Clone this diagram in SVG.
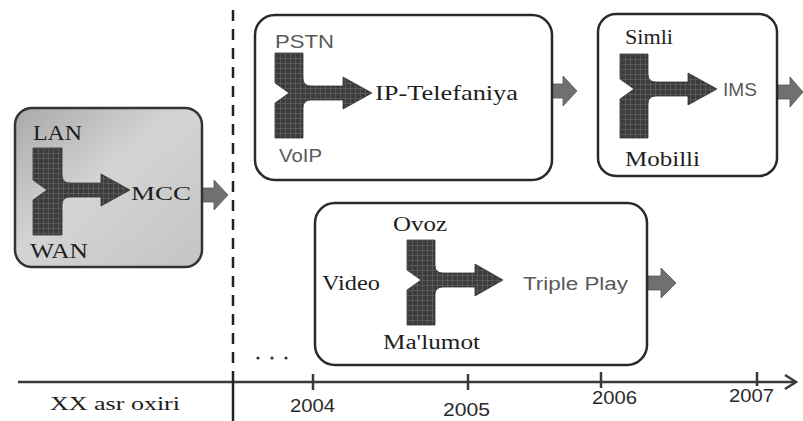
<svg xmlns="http://www.w3.org/2000/svg" width="803" height="421" viewBox="0 0 803 421">
<style>
.box{fill:#fff;stroke:#2a2a2a;stroke-width:2.5}
.y{fill:url(#grid);stroke:#333;stroke-width:0.8}
.out{fill:#707070;stroke:#555;stroke-width:0.8}
.serif{font-family:'Liberation Serif','DejaVu Serif','Times New Roman',serif;fill:#1e1e1e}
.sans{font-family:'Liberation Sans','DejaVu Sans',Arial,sans-serif;fill:#5a5a5a}
.yr{font-family:'Liberation Sans Narrow','Liberation Sans',Arial,sans-serif;fill:#2a2a2a;font-size:19px}
.axis{stroke:#3a3a3a;stroke-width:2.5;fill:none}
</style>
<defs>
<pattern id="grid" width="5" height="5" patternUnits="userSpaceOnUse">
<rect width="5" height="5" fill="#3c3c3c"/>
<path d="M0,0.5H5M0.5,0V5" stroke="#5e5e5e" stroke-width="0.8"/>
</pattern>
<linearGradient id="gbox" x1="0" y1="0" x2="1" y2="1">
<stop offset="0" stop-color="#a9a9a9"/>
<stop offset="0.45" stop-color="#d4d4d4"/>
<stop offset="1" stop-color="#c4c4c4"/>
</linearGradient>
</defs>

<g id="connectors">
<path class="axis" d="M18,382 H795"/>
<path class="axis" d="M785,375 L796,382 L785,389"/>
<path class="axis" d="M313,374 V390 M468,374 V390 M601,372 V388 M757,372 V386"/>
<path d="M233,10 V382" stroke="#222" stroke-width="2.5" stroke-dasharray="11,8" fill="none"/>
<path d="M233,382 V421" stroke="#222" stroke-width="2.5" fill="none"/>
<path class="out" d="M202,188 H214 V180 L228,195 L214,210 V202 H202 Z"/>
<path class="out" d="M551,84 H563 V76 L577,91 L563,106 V98 H551 Z"/>
<path class="out" d="M778,85 H790 V77 L803,92 L790,107 V99 H778 Z"/>
<path class="out" d="M648,276 H661 V268 L676,283 L661,298 V290 H648 Z"/>
</g>

<g id="node-mcc">
<rect x="15" y="108" width="187" height="159" rx="17" fill="url(#gbox)" stroke="#333" stroke-width="2.5"/>
<path class="y" transform="translate(33,148)" d="M0,0 H29 V27 Q29,35 37,35 H68 V26 L97,42 L68,58 V49 H37 Q29,49 29,57 V87 H0 V52 L14,42 L0,32 Z"/>
<text class="serif" x="33" y="140" font-size="20" textLength="49" lengthAdjust="spacingAndGlyphs" fill="#2a2a2a">LAN</text>
<text class="serif" x="131" y="200" font-size="19" textLength="60" lengthAdjust="spacingAndGlyphs" fill="#2a2a2a">MCC</text>
<text class="serif" x="30" y="258" font-size="20" textLength="58" lengthAdjust="spacingAndGlyphs" fill="#2a2a2a">WAN</text>
</g>

<g id="node-ip">
<rect class="box" x="255" y="15" width="297" height="165" rx="20"/>
<path class="y" transform="translate(275,53)" d="M0,0 H28 V25 Q28,33 36,33 H68 V24 L97,40 L68,56 V47 H36 Q28,47 28,55 V85 H0 V50 L14,40 L0,30 Z"/>
<text class="sans" x="275" y="48" font-size="18" textLength="59" lengthAdjust="spacingAndGlyphs">PSTN</text>
<text class="serif" x="375" y="100" font-size="22" textLength="143" lengthAdjust="spacingAndGlyphs">IP-Telefaniya</text>
<text class="sans" x="279" y="162" font-size="18" textLength="43" lengthAdjust="spacingAndGlyphs">VoIP</text>
</g>

<g id="node-ims">
<rect class="box" x="598" y="14" width="179" height="162" rx="18"/>
<path class="y" transform="translate(620,54)" d="M0,0 H28 V20 Q28,28 36,28 H68 V19 L97,35 L68,51 V42 H36 Q28,42 28,50 V84 H0 V45 L14,35 L0,25 Z"/>
<text class="serif" x="625" y="44" font-size="20" textLength="48" lengthAdjust="spacingAndGlyphs">Simli</text>
<text class="sans" x="723" y="96" font-size="18" textLength="34" lengthAdjust="spacingAndGlyphs">IMS</text>
<text class="serif" x="625" y="166" font-size="20" textLength="75" lengthAdjust="spacingAndGlyphs">Mobilli</text>
</g>

<g id="node-triple">
<rect class="box" x="315" y="203" width="332" height="162" rx="20"/>
<path class="y" transform="translate(407,240)" d="M0,0 H28 V25 Q28,33 36,33 H68 V24 L96,40 L68,56 V47 H36 Q28,47 28,55 V85 H0 V50 L14,40 L0,30 Z"/>
<text class="serif" x="393" y="231" font-size="20" textLength="54" lengthAdjust="spacingAndGlyphs">Ovoz</text>
<text class="serif" x="322" y="290" font-size="20" textLength="58" lengthAdjust="spacingAndGlyphs">Video</text>
<text class="sans" x="523" y="290" font-size="18" textLength="105" lengthAdjust="spacingAndGlyphs">Triple Play</text>
<text class="serif" x="383" y="349" font-size="20" textLength="97" lengthAdjust="spacingAndGlyphs">Ma'lumot</text>
</g>

<g id="timeline-labels">
<circle cx="258" cy="358" r="1.6" fill="#333"/>
<circle cx="272" cy="358" r="1.6" fill="#333"/>
<circle cx="286" cy="358" r="1.6" fill="#333"/>
<text class="serif" x="50" y="410" font-size="19" textLength="130" lengthAdjust="spacingAndGlyphs">XX asr oxiri</text>
<text class="yr" x="290" y="412" textLength="45" lengthAdjust="spacingAndGlyphs">2004</text>
<text class="yr" x="443" y="416" textLength="47" lengthAdjust="spacingAndGlyphs">2005</text>
<text class="yr" x="592" y="404" textLength="45" lengthAdjust="spacingAndGlyphs">2006</text>
<text class="yr" x="729" y="402" textLength="45" lengthAdjust="spacingAndGlyphs">2007</text>
</g>
</svg>
